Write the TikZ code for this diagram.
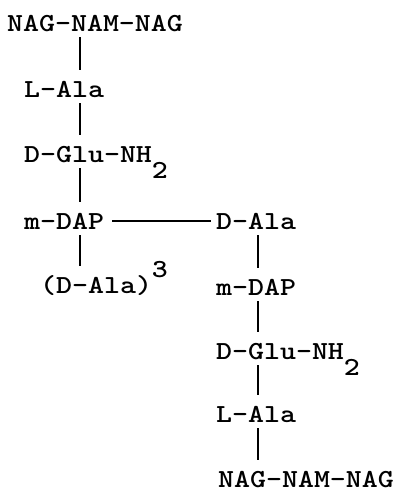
\documentclass[tikz,border=0pt]{standalone}
\usepackage{graphicx}
\usetikzlibrary{positioning}
\tikzset{
  res/.style={anchor=base west,inner sep=0pt,text height=16pt,text depth=0pt,
    font=\ttfamily\bfseries\fontsize{26}{30}\selectfont},
  bond/.style={line width=1.7pt,shorten <=6pt,shorten >=11pt},
  xbond/.style={line width=1.4pt,shorten <=8pt,shorten >=5pt}
}
% typewriter pitch, and half-line shifts
\newcommand{\tw}[1]{\scalebox{1.17}[1]{#1}}
\newcommand{\lowchar}[1]{\raisebox{-16pt}{#1}}
\newcommand{\highchar}[1]{\raisebox{16pt}{#1}}

\begin{document}
\begin{tikzpicture}[x=1pt,y=-1pt]
\useasboundingbox (0,0) rectangle (399,493);
% columns of the bonds
\coordinate (colL) at (80,0);
\coordinate (colR) at (258,0);
% left chain
\node[res] (nagL) at (7,31) {\tw{NAG-NAM-NAG}};
\node[res] (alaL) at (24,97) {\tw{L-Ala}};
\node[res] (gluL) at (24,162) {\tw{D-Glu-NH\lowchar{2}}};
\node[res] (dapL) at (24,229) {\tw{m-DAP}};
\node[res] (dalaL) at (40,293) {\tw{(D-Ala)\highchar{3}}};
% right chain
\node[res] (dalaR) at (216,229) {\tw{D-Ala}};
\node[res] (dapR) at (216,295) {\tw{m-DAP}};
\node[res] (gluR) at (216,359) {\tw{D-Glu-NH\lowchar{2}}};
\node[res] (alaR) at (216,422) {\tw{L-Ala}};
\node[res] (nagR) at (218,487) {\tw{NAG-NAM-NAG}};
% bonds
\draw[bond] (nagL.south -| colL) -- (alaL.north -| colL);
\draw[bond] (alaL.south -| colL) -- (gluL.north -| colL);
\draw[bond] (gluL.south -| colL) -- (dapL.north -| colL);
\draw[bond] (dapL.south -| colL) -- (dalaL.north -| colL);
\draw[bond] (dalaR.south -| colR) -- (dapR.north -| colR);
\draw[bond] (dapR.south -| colR) -- (gluR.north -| colR);
\draw[bond] (gluR.south -| colR) -- (alaR.north -| colR);
\draw[bond] (alaR.south -| colR) -- (nagR.north -| colR);
% cross-link
\draw[xbond] (dapL.east) -- (dalaR.west);
\end{tikzpicture}
\end{document}
